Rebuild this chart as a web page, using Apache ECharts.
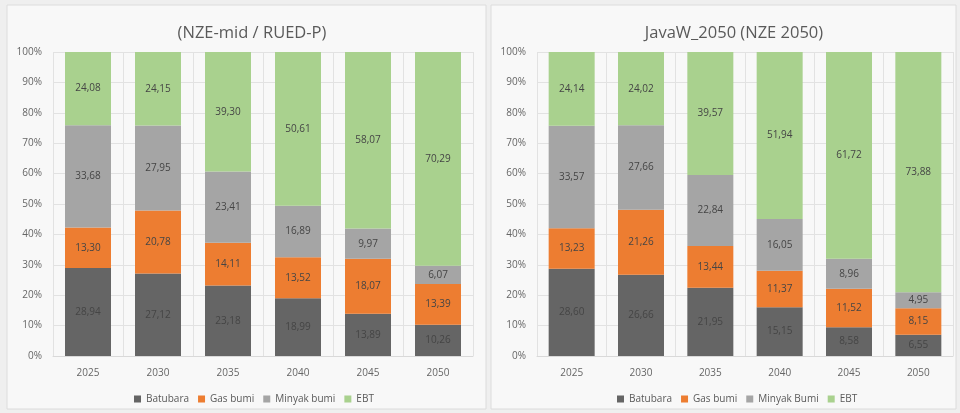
<!DOCTYPE html>
<html>
<head>
<meta charset="utf-8">
<script src="https://cdn.jsdelivr.net/npm/echarts@6/dist/echarts.min.js"></script>
<style>
html,body{margin:0;padding:0;background:#efefef;}
#c{width:960px;height:413px;}
</style>
</head>
<body>
<div id="c"></div>
<script>
const years = ['2025','2030','2035','2040','2045','2050'];
const yTicks = ['0%','10%','20%','30%','40%','50%','60%','70%','80%','90%','100%'];

const leftTitle = '(NZE-mid / RUED-P)';
const leftNames = ['Batubara','Gas bumi','Minyak bumi','EBT'];
const leftBatubara = [28.94, 27.12, 23.18, 18.99, 13.89, 10.26];
const leftGas = [13.30, 20.78, 14.11, 13.52, 18.07, 13.39];
const leftMinyak = [33.68, 27.95, 23.41, 16.89, 9.97, 6.07];
const leftEBT = [24.08, 24.15, 39.30, 50.61, 58.07, 70.29];

const rightTitle = 'JavaW_2050 (NZE 2050)';
const rightNames = ['Batubara','Gas bumi','Minyak Bumi','EBT'];
const rightBatubara = [28.60, 26.66, 21.95, 15.15, 8.58, 6.55];
const rightGas = [13.23, 21.26, 13.44, 11.37, 11.52, 8.15];
const rightMinyak = [33.57, 27.66, 22.84, 16.05, 8.96, 4.95];
const rightEBT = [24.14, 24.02, 39.57, 51.94, 61.72, 73.88];

const colors = ['#656565', '#ED7D31', '#A5A5A5', '#A9D18E'];
const FONT = '"Open Sans", "Noto Sans", sans-serif';

function makeSeries(arrs, names, idx) {
  const totals = years.map((_, i) => arrs.reduce((s, a) => s + a[i], 0));
  return arrs.map((a, k) => ({
    name: names[k],
    type: 'bar',
    stack: 's' + idx,
    xAxisIndex: idx,
    yAxisIndex: idx,
    barWidth: 46,
    itemStyle: { color: colors[k] },
    data: a.map((v, i) => ({ value: v / totals[i] * 100, raw: v })),
    label: {
      show: true,
      position: 'inside',
      fontFamily: FONT,
      fontSize: 10,
      color: '#454545',
      formatter: p => p.data.raw.toFixed(2).replace('.', ',')
    }
  }));
}

function xAx(idx) {
  return {
    type: 'category', gridIndex: idx, data: years,
    axisLine: { lineStyle: { color: '#d9d9d9' } },
    axisTick: { show: false },
    axisLabel: { color: '#666', fontSize: 10, fontFamily: FONT, margin: 12 },
    splitLine: { show: true, lineStyle: { color: '#e2e2e2' } }
  };
}
function yAx(idx) {
  return {
    type: 'value', gridIndex: idx, min: 0, max: 100, interval: 10,
    axisLine: { show: false }, axisTick: { show: false },
    axisLabel: { color: '#666', fontSize: 10, fontFamily: FONT, margin: 11,
      formatter: v => yTicks[Math.round(v / 10)] },
    splitLine: { lineStyle: { color: '#e2e2e2' } }
  };
}

const chart = echarts.init(document.getElementById('c'), null, { renderer: 'canvas' });
chart.setOption({
  backgroundColor: '#efefef',
  animation: false,
  graphic: [
    { type: 'rect', shape: { x: 7, y: 5, width: 479, height: 404 }, style: { fill: '#f8f8f8', stroke: '#dcdcdc', lineWidth: 1 }, z: -10 },
    { type: 'rect', shape: { x: 491, y: 5, width: 465, height: 404 }, style: { fill: '#f8f8f8', stroke: '#dcdcdc', lineWidth: 1 }, z: -10 }
  ],
  title: [
    { text: leftTitle, left: 247, top: 20, textAlign: 'center', textStyle: { fontFamily: FONT, fontSize: 16.5, fontWeight: 'normal', color: '#5a5a5a' } },
    { text: rightTitle, left: 729, top: 20, textAlign: 'center', textStyle: { fontFamily: FONT, fontSize: 16.5, fontWeight: 'normal', color: '#5a5a5a' } }
  ],
  legend: [
    { data: leftNames, left: 129, top: 389, itemWidth: 7, itemHeight: 7, itemGap: 9, icon: 'rect',
      textStyle: { fontFamily: FONT, fontSize: 10, color: '#595959' } },
    { data: rightNames, left: 612, top: 389, itemWidth: 7, itemHeight: 7, itemGap: 9, icon: 'rect',
      textStyle: { fontFamily: FONT, fontSize: 10, color: '#595959' } }
  ],
  grid: [
    { left: 53, right: 487, top: 52, bottom: 57 },
    { left: 537, right: 7, top: 52, bottom: 57 }
  ],
  xAxis: [xAx(0), xAx(1)],
  yAxis: [yAx(0), yAx(1)],
  series: [
    ...makeSeries([leftBatubara, leftGas, leftMinyak, leftEBT], leftNames, 0),
    ...makeSeries([rightBatubara, rightGas, rightMinyak, rightEBT], rightNames, 1)
  ]
});
</script>
</body>
</html>
